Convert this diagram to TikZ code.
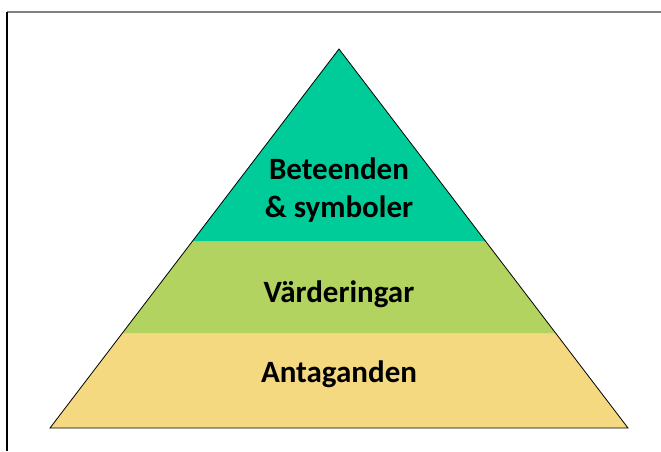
\documentclass[tikz,border=0pt]{standalone}
\usepackage{fontspec}
\setmainfont{Carlito}
\definecolor{topgreen}{RGB}{0,204,153}
\definecolor{midgreen}{RGB}{178,211,96}
\definecolor{lowyellow}{RGB}{244,217,128}
\tikzset{
  layertext/.style = {font=\bfseries\fontsize{31}{38}\selectfont, anchor=base, align=center}
}
\begin{document}
\begin{tikzpicture}[x=1pt, y=1pt]
    \useasboundingbox (0, 0) rectangle (661, 451);

    % frame
    \draw[gray, line width=1.5pt] (7, 439) -- (661, 439);
    \draw[black, line width=1.2pt] (7, 439) -- (7, 0);

    \coordinate (apex) at (339, 402);
    \coordinate (bl) at (50, 23);
    \coordinate (br) at (628, 23);

    % layers
    \fill[lowyellow] (bl) -- (br) -- (555.6, 118) -- (122.4, 118) -- cycle;
    \fill[midgreen] (122.4, 118) -- (555.6, 118) -- (485.4, 210) -- (192.6, 210) -- cycle;
    \fill[topgreen] (192.6, 210) -- (485.4, 210) -- (apex) -- cycle;

    \draw[line width=0.8pt] (bl) -- (br) -- (apex) -- cycle;

    \node[layertext] (top) at (339, 234) {Beteenden\\\& symboler};
    \node[layertext] (mid) at (339, 149) {Värderingar};
    \node[layertext] (low) at (339, 69) {Antaganden};
  \end{tikzpicture}
\end{document}
